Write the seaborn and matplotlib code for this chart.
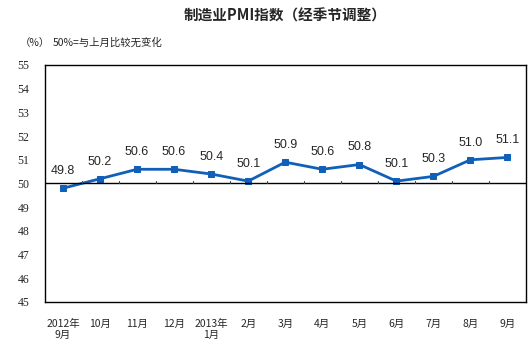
import matplotlib
matplotlib.use("Agg")
import matplotlib.pyplot as plt
import seaborn as sns
import pandas as pd

months = ["2012年\n9月", "10月", "11月", "12月", "2013年\n1月", "2月", "3月",
          "4月", "5月", "6月", "7月", "8月", "9月"]
pmi = [49.8, 50.2, 50.6, 50.6, 50.4, 50.1, 50.9, 50.6, 50.8, 50.1, 50.3, 51.0, 51.1]
yticks = [45, 46, 47, 48, 49, 50, 51, 52, 53, 54, 55]

sns.set_theme(style="white")
plt.rcParams['font.family'] = ['Noto Sans CJK SC', 'DejaVu Sans']

df = pd.DataFrame({"idx": range(len(months)), "pmi": pmi})

fig = plt.figure(figsize=(5.3, 3.46), dpi=100)
ax = fig.add_axes([44.5/530, 1-302/346, (526-44.5)/530, (302-65)/346])
color = '#1060BA'
sns.lineplot(data=df, x="idx", y="pmi", ax=ax, color=color, marker='s',
             markersize=5, markeredgecolor=color, linewidth=2)

ax.set_xlim(-0.5, len(months) - 0.5)
ax.set_ylim(45, 55)
ax.set_yticks(yticks)
ax.set_yticklabels([str(v) for v in yticks], family=['Liberation Serif'], fontsize=8.5)
ax.tick_params(axis='y', direction='in', length=4, width=0.8, color='black', pad=11)
ax.set_xticks(range(len(months)))
ax.set_xticklabels(months, fontsize=7.5)
ax.tick_params(axis='x', length=0, pad=12)
ax.set_xlabel("")
ax.set_ylabel("")
for s in ax.spines.values():
    s.set_color('black')
    s.set_linewidth(1)

# baseline at 50 with category boundary ticks
ax.axhline(50, color='black', linewidth=1)
for b in range(1, len(months)):
    ax.plot([b - 0.5, b - 0.5], [50, 50.12], color='#444444', linewidth=0.8)

for i, v in enumerate(pmi):
    ax.annotate(f"{v:.1f}", (i, v), xytext=(0, 8), textcoords='offset points',
                ha='center', va='bottom', fontsize=9, family=['Liberation Sans'])

fig.text(285/530, 1-16/346, "制造业PMI指数（经季节调整）", ha='center', va='center',
         fontsize=10.5, fontweight='bold')
fig.text(20/530, 1-43/346, "（%）", ha='left', va='center', fontsize=7.5)
fig.text(53/530, 1-43/346, "50%=与上月比较无变化", ha='left', va='center', fontsize=7.5)

fig.savefig("out.png", dpi=100)
